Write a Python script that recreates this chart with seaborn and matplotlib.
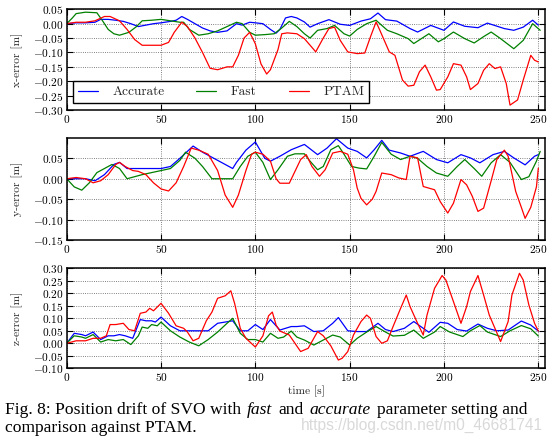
import matplotlib
matplotlib.use("Agg")
import matplotlib.pyplot as plt
import pandas as pd
import seaborn as sns

# ---- x-error [m] ----
x_acc_t = [0, 5, 10, 15, 18, 22, 26, 30, 34, 38, 42, 46, 50, 55, 58, 61, 64, 68, 72, 76, 80, 85, 88, 90, 93, 97,
           100, 104, 108, 111, 113, 116, 119, 122, 126, 129, 133, 139, 145, 150, 156, 161, 165, 169, 175, 182, 186,
           193, 200, 205, 211, 218, 223, 232, 237, 242, 247, 250]
x_acc = [0.0, 0.003, 0.003, 0.005, 0.015, 0.015, 0.012, 0.008, 0.0, -0.01, -0.005, 0.0, 0.003, 0.008, 0.012, 0.025,
         0.015, 0.0, -0.015, -0.025, -0.03, -0.025, -0.01, 0.0, -0.005, 0.005, 0.003, 0.0, -0.02, -0.033, -0.02,
         0.02, 0.025, 0.02, 0.006, -0.012, 0.0, 0.014, -0.002, -0.006, 0.009, 0.017, 0.037, 0.014, 0.009, -0.017,
         -0.029, -0.006, -0.023, 0.006, -0.009, -0.014, 0.002, -0.017, -0.023, -0.012, 0.012, -0.005]

x_fast_t = [0, 3, 5, 10, 16, 19, 22, 25, 28, 33, 37, 40, 45, 50, 55, 60, 62, 65, 70, 75, 80, 85, 90, 93, 97, 100,
            105, 110, 114, 118, 122, 126, 129, 133, 138, 142, 147, 150, 154, 159, 164, 166, 170, 175, 181, 184, 188,
            192, 197, 200, 205, 211, 216, 221, 225, 230, 237, 242, 247, 251]
x_fast = [0.0, 0.02, 0.035, 0.04, 0.038, 0.01, -0.02, -0.035, -0.04, -0.03, -0.01, 0.01, 0.012, 0.015, 0.01, 0.005,
          0.005, -0.02, -0.04, -0.035, -0.025, -0.01, 0.005, 0.0, -0.03, -0.04, -0.038, -0.035, -0.015, 0.008, -0.01,
          -0.035, -0.05, -0.023, -0.017, -0.006, -0.035, -0.043, -0.02, 0.0, 0.012, 0.0, -0.023, -0.035, -0.052,
          -0.069, -0.052, -0.035, -0.063, -0.052, -0.029, -0.052, -0.067, -0.045, -0.029, -0.052, -0.087, -0.058,
          0.0, -0.023]

x_ptam_t = [0, 5, 10, 15, 20, 23, 28, 32, 36, 40, 45, 50, 54, 57, 61, 64, 68, 72, 76, 80, 85, 88, 91, 94, 97, 100,
            103, 106, 108, 112, 114, 117, 122, 126, 131, 132, 136, 139, 142, 145, 149, 154, 158, 161, 164, 166, 171,
            174, 178, 181, 184, 187, 190, 193, 196, 198, 202, 205, 209, 212, 214, 218, 221, 224, 227, 230, 233, 235,
            239, 242, 246, 248, 250]
x_ptam = [0.0, 0.005, 0.005, 0.01, 0.025, 0.025, 0.01, -0.02, -0.055, -0.075, -0.075, -0.075, -0.065, -0.03, 0.005,
          -0.01, -0.05, -0.1, -0.155, -0.16, -0.15, -0.15, -0.11, -0.05, -0.03, -0.07, -0.14, -0.175, -0.16, -0.09,
          -0.035, -0.032, -0.035, -0.052, -0.09, -0.098, -0.05, -0.017, -0.012, -0.058, -0.098, -0.104, -0.102,
          -0.046, 0.006, -0.023, -0.098, -0.11, -0.196, -0.217, -0.214, -0.167, -0.144, -0.185, -0.231, -0.229,
          -0.185, -0.139, -0.144, -0.185, -0.229, -0.208, -0.162, -0.139, -0.156, -0.15, -0.208, -0.283, -0.265,
          -0.196, -0.11, -0.127, -0.133]

# ---- y-error [m] ----
y_acc_t = [0, 10, 15, 20, 25, 28, 32, 40, 50, 55, 60, 67, 72, 80, 88, 90, 95, 100, 105, 108, 113, 119, 126, 133,
           138, 143, 149, 154, 159, 163, 167, 171, 177, 182, 189, 196, 202, 209, 214, 219, 226, 232, 237, 243, 248,
           250]
y_acc = [0.0, 0.0, -0.005, 0.01, 0.035, 0.04, 0.025, 0.025, 0.025, 0.03, 0.05, 0.08, 0.065, 0.045, 0.025, 0.04,
         0.07, 0.09, 0.05, 0.043, 0.055, 0.071, 0.084, 0.059, 0.075, 0.098, 0.075, 0.067, 0.051, 0.071, 0.094, 0.07,
         0.063, 0.055, 0.067, 0.047, 0.039, 0.059, 0.051, 0.039, 0.059, 0.067, 0.051, 0.034, 0.055, 0.059]

y_fast_t = [0, 4, 8, 12, 16, 20, 24, 28, 32, 36, 40, 45, 50, 55, 60, 63, 68, 72, 77, 85, 88, 92, 96, 100, 104, 108,
            112, 117, 121, 126, 129, 133, 136, 140, 144, 147, 151, 155, 159, 163, 167, 172, 177, 182, 186, 191, 196,
            202, 207, 211, 216, 220, 225, 230, 235, 241, 245, 249, 251]
y_fast = [0.0, -0.02, -0.028, -0.01, 0.015, 0.025, 0.035, 0.025, 0.0, 0.005, 0.01, 0.015, 0.02, 0.025, 0.045, 0.065,
          0.05, 0.03, 0.0, 0.0, 0.0, 0.03, 0.055, 0.065, 0.04, -0.002, 0.022, 0.055, 0.061, 0.061, 0.043, 0.022,
          0.03, 0.071, 0.081, 0.06, 0.03, 0.026, 0.024, 0.055, 0.089, 0.06, 0.047, 0.055, 0.05, 0.03, 0.014, 0.006,
          0.03, 0.047, 0.025, 0.006, 0.039, 0.059, 0.04, -0.002, 0.005, 0.043, 0.067]

y_ptam_t = [0, 5, 10, 14, 18, 22, 26, 28, 31, 35, 38, 42, 46, 50, 54, 58, 62, 66, 70, 75, 80, 84, 88, 91, 95, 98,
            100, 104, 108, 111, 113, 118, 121, 124, 127, 130, 134, 137, 141, 145, 149, 152, 154, 156, 159, 162, 164,
            167, 172, 176, 180, 182, 186, 189, 195, 198, 202, 205, 209, 212, 215, 218, 221, 225, 228, 232, 234, 238,
            241, 243, 246, 249, 250]
y_ptam = [0.0, 0.003, 0.0, -0.01, -0.005, 0.01, 0.035, 0.04, 0.03, 0.02, 0.018, 0.01, -0.01, -0.025, -0.03, -0.01,
          0.03, 0.075, 0.07, 0.06, 0.02, -0.04, -0.07, -0.04, 0.02, 0.06, 0.065, 0.06, 0.043, 0.0, -0.011, -0.011,
          0.018, 0.047, 0.059, 0.03, 0.006, 0.022, 0.063, 0.067, 0.06, 0.022, -0.023, -0.048, -0.064, -0.05, -0.031,
          0.014, 0.01, 0.002, -0.002, 0.055, 0.051, -0.019, -0.027, -0.056, -0.084, -0.06, -0.002, -0.015, -0.043,
          -0.08, -0.072, -0.005, 0.047, 0.07, 0.055, -0.031, -0.07, -0.097, -0.07, -0.02, 0.026]

# ---- z-error [m] ----
z_acc_t = [0, 4, 8, 10, 14, 18, 22, 25, 28, 31, 35, 39, 42, 45, 47, 50, 55, 60, 65, 70, 75, 80, 88, 92, 96, 100,
           104, 108, 113, 119, 122, 126, 131, 136, 141, 144, 149, 154, 159, 165, 169, 173, 179, 184, 189, 192, 198,
           202, 207, 212, 218, 223, 228, 234, 241, 246, 250]
z_acc = [0.0, 0.04, 0.035, 0.03, 0.045, 0.015, 0.03, 0.03, 0.035, 0.03, 0.02, 0.095, 0.09, 0.09, 0.085, 0.105, 0.07,
         0.05, 0.05, 0.05, 0.05, 0.08, 0.09, 0.05, 0.05, 0.075, 0.055, 0.095, 0.053, 0.067, 0.067, 0.07, 0.047, 0.05,
         0.08, 0.103, 0.05, 0.047, 0.047, 0.08, 0.055, 0.047, 0.06, 0.087, 0.06, 0.044, 0.084, 0.08, 0.055, 0.049,
         0.077, 0.06, 0.05, 0.053, 0.089, 0.073, 0.049]

z_fast_t = [0, 4, 8, 10, 14, 18, 22, 26, 30, 34, 38, 40, 43, 45, 48, 50, 55, 60, 65, 70, 75, 80, 85, 88, 92, 96,
            100, 104, 108, 112, 115, 119, 122, 126, 131, 136, 141, 145, 150, 154, 159, 164, 169, 173, 179, 184, 189,
            195, 198, 203, 210, 214, 219, 223, 230, 235, 241, 246, 250]
z_fast = [0.0, 0.03, 0.025, 0.02, 0.035, 0.005, 0.015, 0.01, 0.015, -0.005, 0.03, 0.065, 0.06, 0.075, 0.07, 0.085,
          0.05, 0.025, 0.005, -0.01, 0.015, 0.045, 0.08, 0.1, 0.04, 0.015, 0.015, 0.005, 0.04, 0.02, 0.025, 0.049,
          0.025, 0.013, -0.007, 0.013, 0.033, 0.025, -0.007, 0.02, 0.045, 0.067, 0.045, 0.029, 0.032, 0.053, 0.02,
          0.045, 0.067, 0.045, 0.027, 0.05, 0.071, 0.045, 0.027, 0.05, 0.071, 0.058, 0.029]

z_ptam_t = [0, 5, 10, 14, 18, 21, 23, 26, 30, 33, 36, 39, 42, 44, 46, 50, 54, 58, 62, 64, 67, 70, 74, 77, 80, 84,
            87, 89, 92, 95, 100, 104, 107, 109, 111, 113, 118, 121, 124, 128, 133, 136, 140, 144, 146, 149, 152, 156,
            159, 161, 164, 167, 170, 173, 177, 180, 182, 186, 189, 191, 195, 199, 201, 205, 209, 212, 214, 218, 221,
            224, 227, 230, 234, 236, 240, 242, 245, 248, 250]
z_ptam = [0.0, 0.01, 0.01, 0.02, 0.02, 0.03, 0.075, 0.075, 0.08, 0.055, 0.05, 0.12, 0.125, 0.14, 0.13, 0.16, 0.12,
          0.07, 0.06, 0.045, 0.01, 0.02, 0.09, 0.125, 0.18, 0.19, 0.21, 0.16, 0.06, 0.02, -0.015, 0.03, 0.11, 0.125,
          0.073, 0.049, 0.033, 0.0, -0.033, -0.02, 0.047, 0.03, -0.01, -0.067, -0.06, -0.033, 0.033, 0.087, 0.113,
          0.1, 0.027, 0.0, 0.01, 0.067, 0.14, 0.193, 0.147, 0.08, 0.033, 0.113, 0.22, 0.271, 0.253, 0.167, 0.08,
          0.147, 0.207, 0.271, 0.193, 0.113, 0.06, 0.007, 0.087, 0.193, 0.28, 0.253, 0.153, 0.08, 0.049]

methods = ["Accurate", "Fast", "PTAM"]
palette = {"Accurate": "blue", "Fast": "green", "PTAM": "red"}

x_ticks = [0, 50, 100, 150, 200, 250]
y_ticks_x = [-0.30, -0.25, -0.20, -0.15, -0.10, -0.05, 0.00, 0.05]
y_ticks_y = [-0.15, -0.10, -0.05, 0.00, 0.05]
y_ticks_z = [-0.10, -0.05, 0.00, 0.05, 0.10, 0.15, 0.20, 0.25, 0.30]

caption_1 = [("Fig. 8: Position drift of SVO with", "normal"), ("fast", "italic"), ("and", "normal"),
             ("accurate", "italic"), ("parameter setting and", "normal")]
caption_2 = "comparison against PTAM."
watermark = "https://blog.csdn.net/m0_46681741"


def to_frame(series):
    rows = []
    for name, (t, v) in zip(methods, series):
        for ti, vi in zip(t, v):
            rows.append({"time": ti, "error": vi, "method": name})
    return pd.DataFrame(rows)


sns.set_theme(style="ticks")
plt.rcParams["font.family"] = ["cmr10", "DejaVu Serif"]
plt.rcParams["mathtext.fontset"] = "cm"
plt.rcParams["axes.formatter.use_mathtext"] = True
plt.rcParams["axes.unicode_minus"] = True

fig = plt.figure(figsize=(5.54, 4.46), dpi=100)
W, H = 554, 446

panels = [
    ("x-error [m]", [(x_acc_t, x_acc), (x_fast_t, x_fast), (x_ptam_t, x_ptam)], (-0.30, 0.05), y_ticks_x, 9.3, 110),
    ("y-error [m]", [(y_acc_t, y_acc), (y_fast_t, y_fast), (y_ptam_t, y_ptam)], (-0.15, 0.099), y_ticks_y, 138.3, 240),
    ("z-error [m]", [(z_acc_t, z_acc), (z_fast_t, z_fast), (z_ptam_t, z_ptam)], (-0.10, 0.30), y_ticks_z, 268.3, 368.3),
]

axes = []
for i, (ylabel, series, ylim, yticks, top_px, bot_px) in enumerate(panels):
    ax = fig.add_axes([66.7 / W, 1 - bot_px / H, (545.3 - 66.7) / W, (bot_px - top_px) / H])
    df = to_frame(series)
    sns.lineplot(data=df, x="time", y="error", hue="method", hue_order=methods, palette=palette,
                 estimator=None, linewidth=0.9, ax=ax, legend=(i == 0))
    ax.set_xlim(0, 253.7)
    ax.set_ylim(*ylim)
    ax.set_xticks(x_ticks)
    ax.set_yticks(yticks)
    ax.set_ylabel(ylabel, fontsize=8.3)
    ax.yaxis.set_label_coords(-0.091, 0.5)
    ax.set_xlabel("time [s]" if i == 2 else "", fontsize=8.2, labelpad=2)
    ax.grid(True, linestyle=":", color="0.35", linewidth=0.6)
    ax.tick_params(direction="in", top=True, right=True, labelsize=8.2, length=4, width=0.8,
                   colors="black", pad=2)
    for sp in ax.spines.values():
        sp.set_linewidth(1.1)
        sp.set_color("black")
    axes.append(ax)

leg = axes[0].legend(loc="lower left", bbox_to_anchor=(0.013, 0.07), ncol=3, fontsize=9.6,
                     frameon=True, fancybox=False, framealpha=1, edgecolor="black",
                     handlelength=1.5, handletextpad=1.1, columnspacing=2.4, borderpad=0.35,
                     borderaxespad=0.0)
leg.get_frame().set_linewidth(1.0)
leg.set_title(None)

# caption, laid out word group by word group
fig.canvas.draw()
renderer = fig.canvas.get_renderer()
cap_font = dict(family="Liberation Serif", fontsize=12.6, color="black", va="baseline", ha="left")
x_px = 5.0
space_px = 6.0
for text, style in caption_1:
    t = fig.text(x_px / W, 1 - 414 / H, text, fontstyle=style, **cap_font)
    bb = t.get_window_extent(renderer)
    x_px = bb.x1 + space_px
fig.text(5.0 / W, 1 - 431.5 / H, caption_2, **cap_font)
fig.text(301 / W, 1 - 429.5 / H, watermark, family="Liberation Sans", fontsize=11.2,
         color="#d9d9d9", va="baseline", ha="left", zorder=0)

fig.savefig("out.png", dpi=100)
